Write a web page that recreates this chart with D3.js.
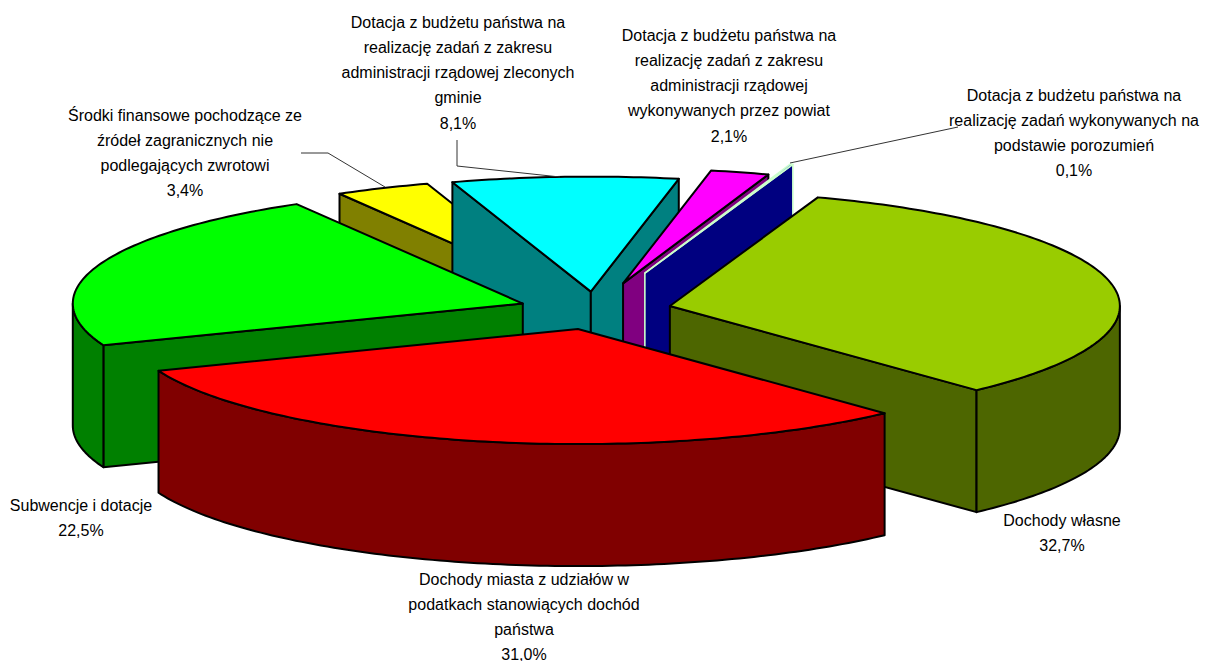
<!DOCTYPE html>
<html><head><meta charset="utf-8">
<script src="https://cdn.jsdelivr.net/npm/d3@7"></script>
<style>html,body{margin:0;padding:0;background:#fff}svg{display:block}</style>
</head><body><svg id="c" width="1207" height="661"></svg>
<script>
const categories = [
  ["Dochody własne"],
  ["Dochody miasta z udziałów w","podatkach stanowiących dochód","państwa"],
  ["Subwencje i dotacje"],
  ["Środki finansowe pochodzące ze","źródeł zagranicznych nie","podlegających zwrotowi"],
  ["Dotacja z budżetu państwa na","realizację zadań z zakresu","administracji rządowej zleconych","gminie"],
  ["Dotacja z budżetu państwa na","realizację zadań z zakresu","administracji rządowej","wykonywanych przez powiat"],
  ["Dotacja z budżetu państwa na","realizację zadań wykonywanych na","podstawie porozumień"]
];
const values = [32.7,31.0,22.5,3.4,8.1,2.1,0.1];
const topColors  = ["#99CC00","#FF0000","#00FF00","#FFFF00","#00FFFF","#FF00FF","#0000FF"];
const wallColors = ["#4D6600","#800000","#008000","#808000","#008080","#800080","#000080"];
const strokes    = ["#000","#000","#000","#000","#000","#000","#CCFFCC"];
const explode    = [0.17,0.17,0.17,0.16,0.16,0.24,0.34];
const drawOrder  = [3,4,5,6,0,2,1];
const labelX     = [1062,524,81,185,458,729,1074];
const labelY     = [520,579,505,115,22,35,95];
const leaders    = [[[301,153],[328,153],[385,187]],[[457,140],[457,166],[560,177]],[[790,163],[958,127]]];

const cx=595, cy=310, rx=450, ry=115, depth=122;
const startDeg=19.2;
const svg=d3.select("#c");
const px=d3.scaleLinear().domain([-1,1]).range([cx-rx,cx+rx]);
const py=d3.scaleLinear().domain([-1,1]).range([cy-ry,cy+ry]);
const rad=Math.PI/180;
const arcs=d3.pie().sort(null).startAngle(startDeg*rad).endAngle((startDeg+360)*rad)(values);
const line=d3.line();

function geom(i){
  const a=arcs[i], m=(a.startAngle+a.endAngle)/2, e=explode[i];
  const ox=e*Math.sin(m), oy=-e*Math.cos(m);
  const P=(t,r=1,d=0)=>[px(ox+r*Math.sin(t)),py(oy-r*Math.cos(t))+d];
  return {a,P};
}
function sampled(t0,t1,P,d){
  const n=Math.max(2,Math.ceil(Math.abs(t1-t0)/(rad*1)));
  return d3.range(n+1).map(k=>P(t0+(t1-t0)*k/n,1,d));
}
drawOrder.forEach(i=>{
  const {a,P}=geom(i), g=svg.append("g");
  const s=a.startAngle,e=a.endAngle;
  const sw=i===6?1.6:2;
  const style=(sel,fill)=>sel.attr("fill",fill).attr("stroke",strokes[i]).attr("stroke-width",sw).attr("stroke-linejoin","round");
  const wall=t=>[P(t,0),P(t,1),P(t,1,depth),P(t,0,depth)];
  if(Math.sin(s)<0) style(g.append("path").attr("d",line(wall(s))+"Z"),wallColors[i]);
  if(Math.sin(e)>0) style(g.append("path").attr("d",line(wall(e))+"Z"),wallColors[i]);
  // front rim, for the part of the edge facing the viewer
  const k0=Math.max(s,Math.PI/2), k1=Math.min(e,1.5*Math.PI);
  if(k1>k0){
    const top=sampled(k0,k1,P,0), bot=sampled(k1,k0,P,depth);
    style(g.append("path").attr("d",line(top.concat(bot))+"Z"),wallColors[i]);
  }
  const pts=[P(s,0)].concat(sampled(s,e,P,0));
  g.append("path").attr("d",line(pts)+"Z").attr("fill",topColors[i]).attr("stroke",i===6?strokes[i]:"#000").attr("stroke-width",sw).attr("stroke-linejoin","round");
});
leaders.forEach(l=>svg.append("path").attr("d",line(l)).attr("fill","none").attr("stroke","#333").attr("stroke-width",1));

const fmt=v=>v.toFixed(1).replace(".",",")+"%";
categories.forEach((lines,i)=>{
  const t=svg.append("text").attr("text-anchor","middle").attr("font-family","'Liberation Sans',Arial,sans-serif").attr("font-size",16).attr("fill","#000");
  lines.concat([fmt(values[i])]).forEach((s,j)=>{
    t.append("tspan").attr("x",labelX[i]).attr("y",labelY[i]+j*25.3+5.5).text(s);
  });
});
</script></body></html>
